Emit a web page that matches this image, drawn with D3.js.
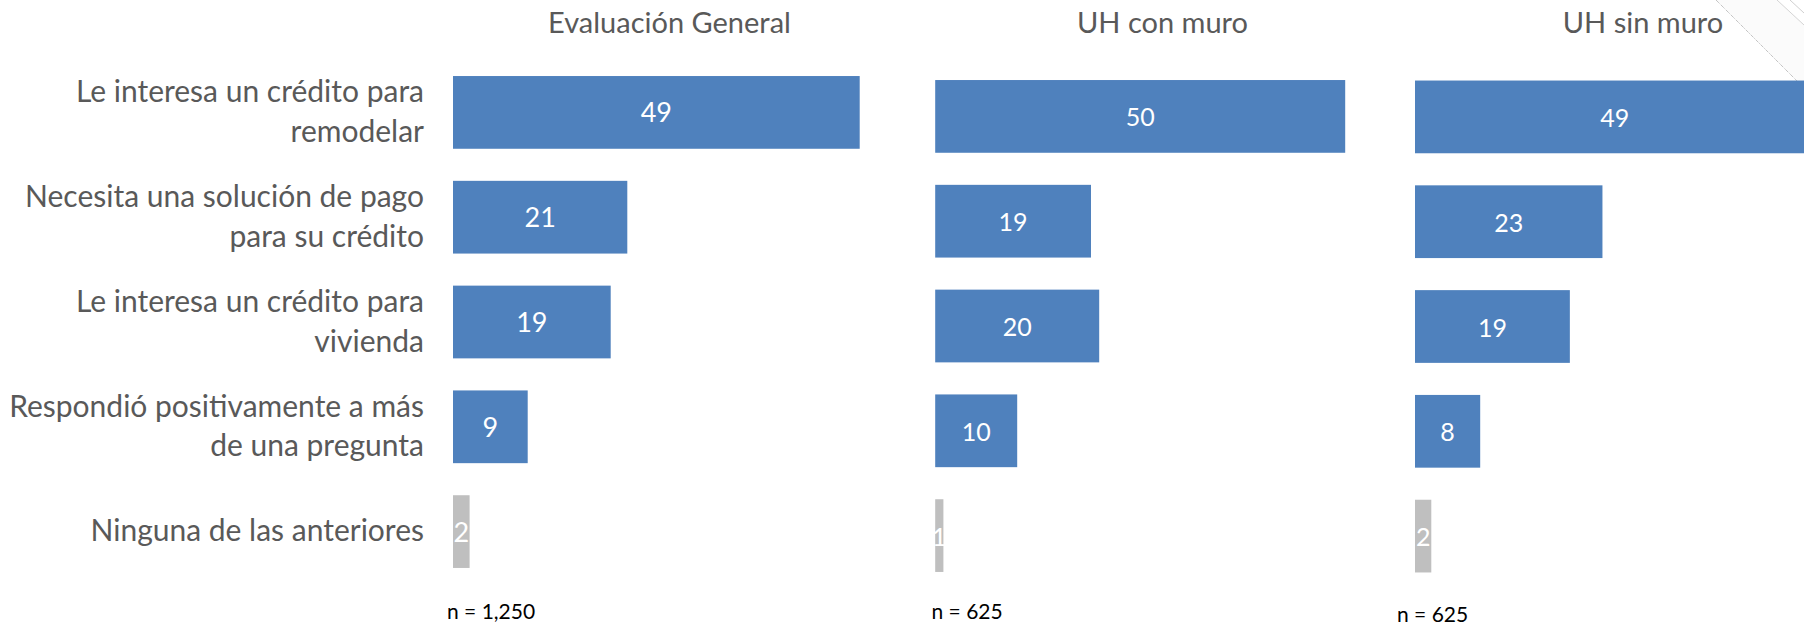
<!DOCTYPE html>
<html>
<head>
<meta charset="utf-8">
<script src="https://cdn.jsdelivr.net/npm/d3@7"></script>
<style>
  html, body { margin: 0; padding: 0; background: #ffffff; }
  svg { display: block; }
  text { font-family: Lato, "Open Sans", sans-serif; }
</style>
</head>
<body>
<svg id="chart" width="1804" height="624"></svg>
<script>
// ---- data ----
const categories = [
  "Le interesa un crédito para\nremodelar",
  "Necesita una solución de pago\npara su crédito",
  "Le interesa un crédito para\nvivienda",
  "Respondió positivamente a más\nde una pregunta",
  "Ninguna de las anteriores"
];
const panelTitles = ["Evaluación General", "UH con muro", "UH sin muro"];
const sampleLabels = ["n = 1,250", "n = 625", "n = 625"];
const valuesGeneral = [49, 21, 19, 9, 2];
const valuesConMuro = [50, 19, 20, 10, 1];
const valuesSinMuro = [49, 23, 19, 8, 2];
const seriesValues = [valuesGeneral, valuesConMuro, valuesSinMuro];

// ---- layout ----
const W = 1804, H = 624;
const blue = "#4F81BD", grey = "#BFBFBF", textGrey = "#595959";
const panels = [
  { x0: 453,   unit: 8.3,  yTop: 60.0, titleX: 669.5, nX: 447,  nY: 619 },
  { x0: 935.2, unit: 8.2,  yTop: 64.0, titleX: 1162.5, nX: 931.5, nY: 619 },
  { x0: 1415,  unit: 8.15, yTop: 64.5, titleX: 1643,  nX: 1397, nY: 621.5 }
];
const step = 104.8;

const svg = d3.select("#chart");

// decorative corner (slide decoration)
svg.append("path")
  .attr("d", "M1716,0 L1777,0 L1804,25 L1804,88 Z")
  .attr("fill", "#fbfbfb");
svg.append("line").attr("x1", 1716).attr("y1", 0).attr("x2", 1797).attr("y2", 81)
  .attr("stroke", "#c4c4c4").attr("stroke-width", 1).attr("stroke-dasharray", "4,1,1,1");
svg.append("line").attr("x1", 1777).attr("y1", 0).attr("x2", 1804).attr("y2", 25)
  .attr("stroke", "#d4d4d4").attr("stroke-width", 1);
svg.append("line").attr("x1", 1790).attr("y1", 0).attr("x2", 1804).attr("y2", 13)
  .attr("stroke", "#cfcfcf").attr("stroke-width", 1);

panels.forEach((p, i) => {
  const vals = seriesValues[i];
  const x = d3.scaleLinear().domain([0, 100]).range([p.x0, p.x0 + 100 * p.unit]);
  const y = d3.scaleBand().domain(categories)
    .range([p.yTop, p.yTop + step * categories.length])
    .paddingInner(0.306).paddingOuter(0.153);

  const g = svg.append("g");

  g.selectAll("rect.bar").data(vals).join("rect")
    .attr("class", "bar")
    .attr("x", x(0))
    .attr("y", (d, j) => y(categories[j]))
    .attr("width", d => x(d) - x(0))
    .attr("height", y.bandwidth())
    .attr("fill", (d, j) => j === categories.length - 1 ? grey : blue);

  g.selectAll("text.val").data(vals).join("text")
    .attr("class", "val")
    .attr("x", d => (x(0) + x(d)) / 2)
    .attr("y", (d, j) => y(categories[j]) + y.bandwidth() / 2 + 10)
    .attr("text-anchor", "middle")
    .attr("fill", "#ffffff")
    .attr("font-size", i === 0 ? 27 : 25)
    .text(d => d);

  // panel title
  g.append("text")
    .attr("x", p.titleX).attr("y", 33)
    .attr("text-anchor", "middle")
    .attr("fill", textGrey)
    .attr("font-size", 29)
    .text(panelTitles[i]);

  // sample size
  g.append("text")
    .attr("x", p.nX).attr("y", p.nY)
    .attr("fill", "#000000")
    .attr("font-size", 21)
    .text(sampleLabels[i]);

  // category axis only on first panel
  if (i === 0) {
    const axis = d3.axisLeft(y).tickSize(0).tickPadding(0).tickFormat("");
    const ag = g.append("g").attr("transform", `translate(${p.x0 - 29},0)`).call(axis);
    ag.select(".domain").remove();
    ag.selectAll(".tick").each(function(d) {
      const lines = d.split("\n");
      const t = d3.select(this).append("text")
        .attr("text-anchor", "end")
        .attr("fill", textGrey)
        .attr("font-size", 30)
        .style("font-family", "Lato, 'Open Sans', sans-serif");
      const first = lines.length === 1 ? 9 : -10;
      lines.forEach((ln, k) => {
        t.append("tspan").attr("x", 0).attr("y", first + k * 39.5).text(ln);
      });
    });
  }
});
</script>
</body>
</html>
